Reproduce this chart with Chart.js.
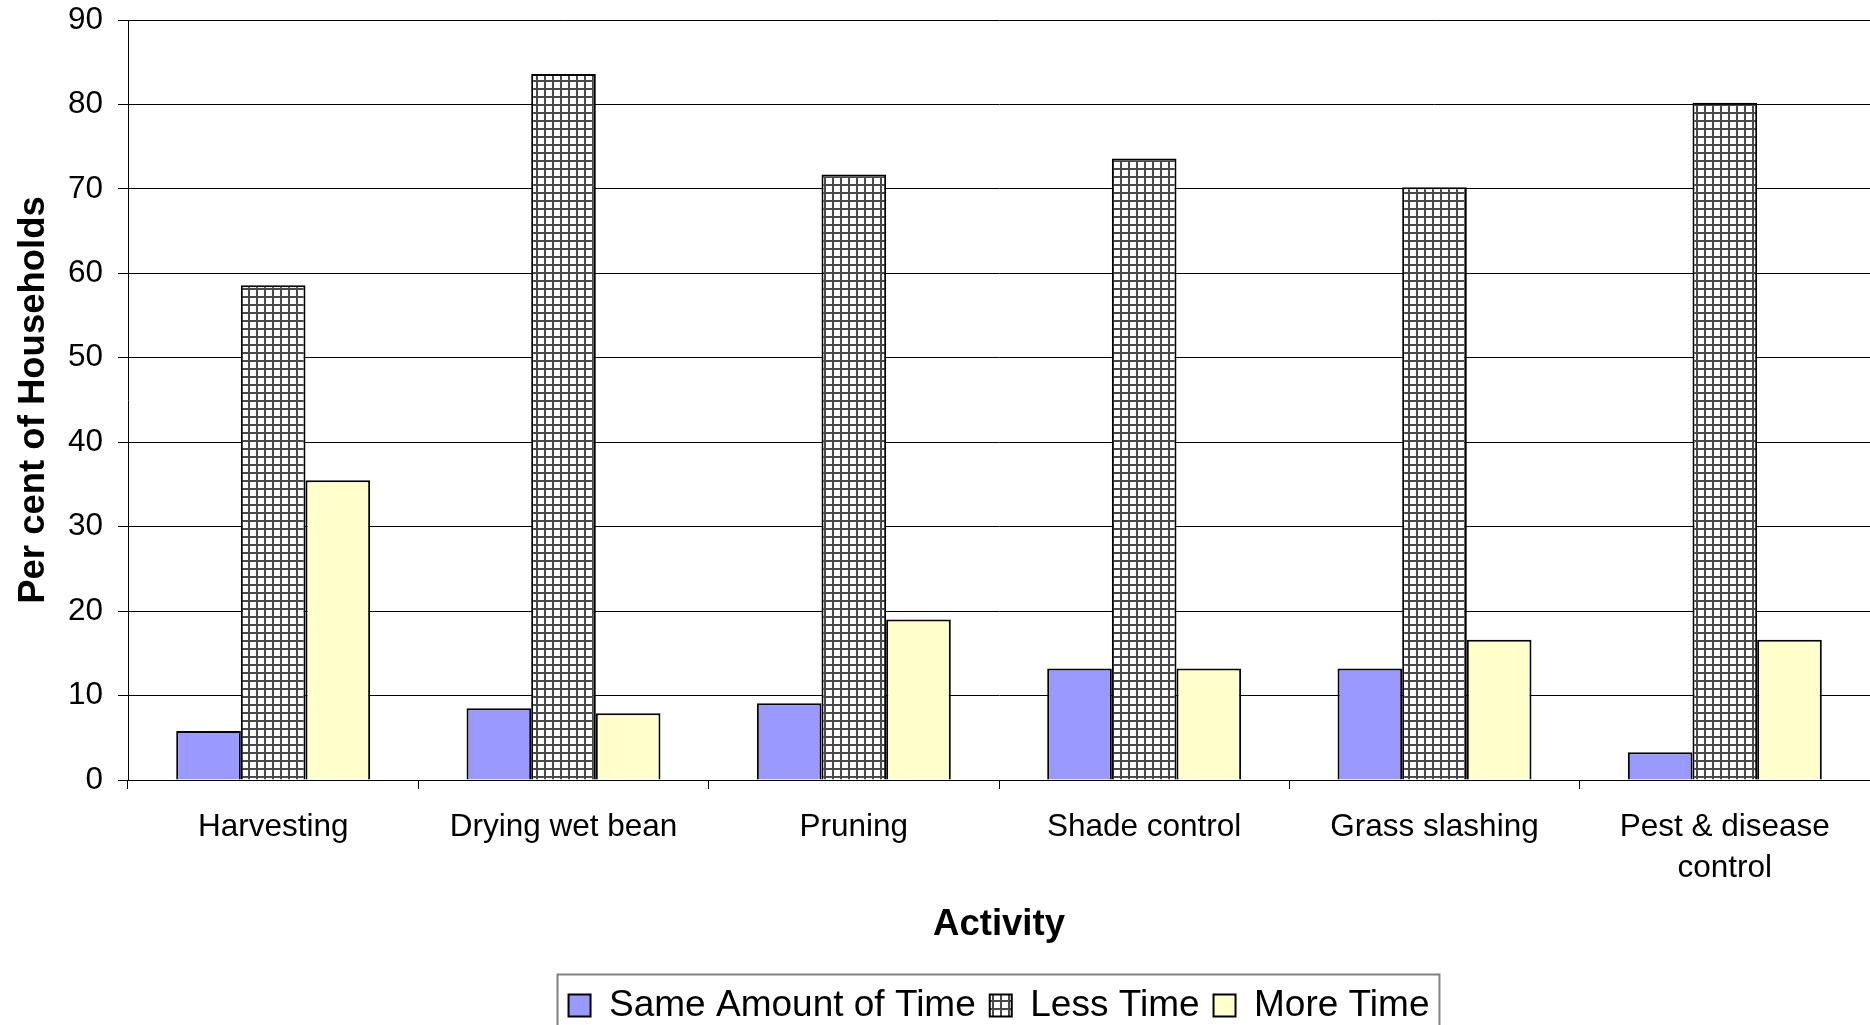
<!DOCTYPE html>
<html>
<head>
<meta charset="utf-8">
<script src="https://cdn.jsdelivr.net/npm/chart.js@4.4.1/dist/chart.umd.min.js"></script>
<style>
  html, body { margin: 0; padding: 0; background: #fff; }
  #wrap { width: 1870px; height: 1025px; }
</style>
</head>
<body>
<div id="wrap"><canvas id="c"></canvas></div>
<script>
// categories and series
const activities = ['Harvesting', 'Drying wet bean', 'Pruning', 'Shade control', 'Grass slashing', ['Pest & disease', 'control']];
const sameTime = [5.8, 8.5, 9.1, 13.2, 13.2, 3.3];
const lessTime = [58.6, 83.6, 71.7, 73.6, 70.2, 80.2];
const moreTime = [35.5, 7.9, 19.0, 13.2, 16.6, 16.6];
const yTicks = [0, 10, 20, 30, 40, 50, 60, 70, 80, 90];

const FONT = "'Liberation Sans', Arial, sans-serif";

// grid hatch for the "Less Time" bars
function gridPattern() {
  const p = document.createElement('canvas');
  p.width = 8; p.height = 8;
  const g = p.getContext('2d');
  g.fillStyle = '#fff';
  g.fillRect(0, 0, 8, 8);
  g.fillStyle = '#4a4a4a';
  g.fillRect(0, 0, 8, 2);
  g.fillRect(0, 0, 2, 8);
  return g.createPattern(p, 'repeat');
}

// border round the legend, like the original
const legendBorder = {
  id: 'legendBorder',
  afterDraw(chart) {
    const lg = chart.legend;
    if (!lg || !lg.legendHitBoxes.length) return;
    const boxes = lg.legendHitBoxes;
    const first = boxes[0], last = boxes[boxes.length - 1];
    const cy = first.top + first.height / 2;
    const ctx = chart.ctx;
    ctx.save();
    ctx.strokeStyle = '#808080';
    ctx.lineWidth = 2;
    ctx.strokeRect(first.left - 11, cy - 31, last.left + last.width - first.left + 21, 64);
    ctx.restore();
  }
};

const ctx = document.getElementById('c').getContext('2d');
new Chart(ctx, {
  type: 'bar',
  data: {
    labels: activities,
    datasets: [
      { label: 'Same Amount of Time', data: sameTime, backgroundColor: '#9999ff', borderColor: '#000', borderWidth: 2 },
      { label: 'Less Time', data: lessTime, backgroundColor: gridPattern(), borderColor: '#000', borderWidth: 2 },
      { label: 'More Time', data: moreTime, backgroundColor: '#ffffcc', borderColor: '#000', borderWidth: 2 }
    ]
  },
  options: {
    responsive: true,
    maintainAspectRatio: false,
    animation: false,
    devicePixelRatio: 1,
    layout: { padding: { top: 20, left: 0, right: 0, bottom: -9 } },
    datasets: { bar: { categoryPercentage: 0.668, barPercentage: 1.0 } },
    plugins: {
      tooltip: { enabled: false },
      legend: {
        position: 'bottom',
        fullSize: false,
        labels: {
          color: '#000',
          font: { family: FONT, size: 37 },
          boxWidth: 22,
          boxHeight: 22,
          padding: 14
        }
      }
    },
    scales: {
      x: {
        afterFit: (s) => { s.height = 193; },
        grid: { display: true, drawOnChartArea: false, drawTicks: true, tickLength: 9, color: '#000', lineWidth: 1 },
        border: { display: true, color: '#000', width: 1 },
        ticks: { color: '#000', font: { family: FONT, size: 31.5, lineHeight: 1.3 }, padding: 18, maxRotation: 0 },
        title: { display: true, text: 'Activity', color: '#000', font: { family: FONT, size: 36.5, weight: 'bold' }, padding: { top: 0, bottom: 26 } }
      },
      y: {
        min: 0,
        max: 90,
        afterFit: (s) => { s.width = 128; },
        afterBuildTicks: (s) => { s.ticks = yTicks.map(v => ({ value: v })); },
        grid: { color: '#000', lineWidth: 1, tickLength: 10 },
        border: { display: true, color: '#000', width: 1 },
        ticks: { color: '#000', font: { family: FONT, size: 31.5, lineHeight: 0.3 }, padding: 15 },
        title: { display: true, text: 'Per cent of Households', color: '#000', font: { family: FONT, size: 36.5, weight: 'bold' }, padding: { top: 12, bottom: 0 } }
      }
    }
  },
  plugins: [legendBorder]
});
</script>
</body>
</html>
